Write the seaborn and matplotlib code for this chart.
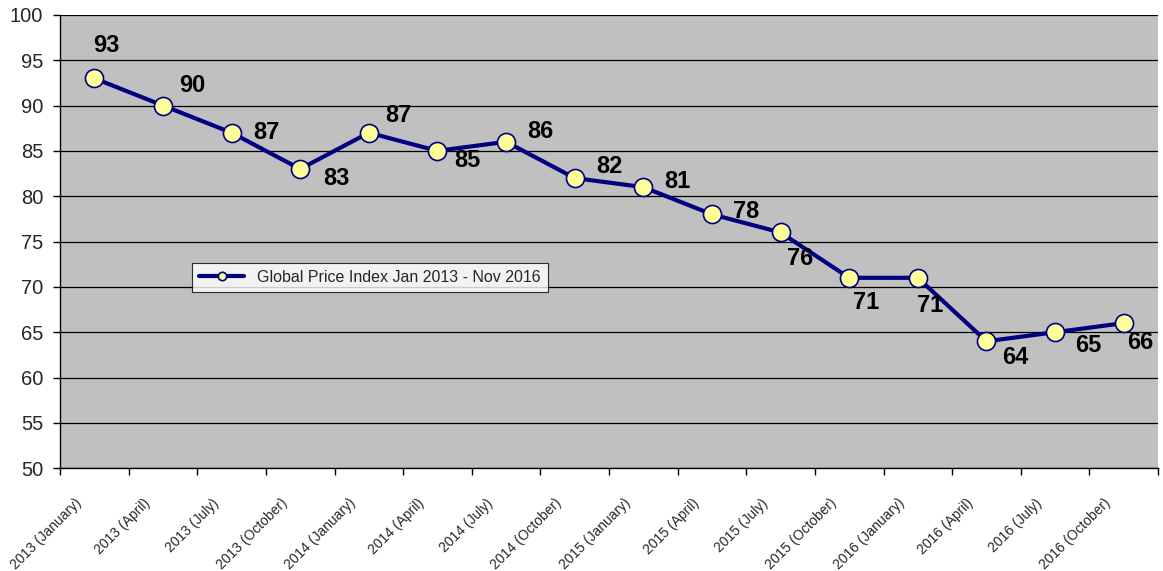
import numpy as np
import pandas as pd
import matplotlib.pyplot as plt
import matplotlib.transforms as mtransforms
import seaborn as sns
from matplotlib.ticker import MultipleLocator

# data
periods = ["2013 (January)", "2013 (April)", "2013 (July)", "2013 (October)",
           "2014 (January)", "2014 (April)", "2014 (July)", "2014 (October)",
           "2015 (January)", "2015 (April)", "2015 (July)", "2015 (October)",
           "2016 (January)", "2016 (April)", "2016 (July)", "2016 (October)"]
index_values = [93, 90, 87, 83, 87, 85, 86, 82, 81, 78, 76, 71, 71, 64, 65, 66]
# label offsets in pixels (dx, dy) relative to each point
label_offsets = [(12, 33), (29, 20), (35, 0), (36, -10), (30, 17), (30, -10),
                 (34, 10), (35, 12), (34, 6), (34, 3), (20, -26), (17, -25),
                 (12, -28), (29, -16), (33, -13), (17, -19)]

sns.set_style("white")
plt.rcParams['font.family'] = ['Liberation Sans', 'DejaVu Sans']

df = pd.DataFrame({"period": periods, "value": index_values})

fig, ax = plt.subplots(figsize=(11.63, 5.71), dpi=100)
fig.subplots_adjust(left=0.0516, right=0.9957, top=0.974, bottom=0.18)
ax.set_facecolor("#C0C0C0")

sns.lineplot(data=df, x="period", y="value", ax=ax, color="#000080",
             linewidth=3, marker="o", markersize=13,
             markerfacecolor="#FFFF99", markeredgecolor="#000080",
             markeredgewidth=1.2, label="Global Price Index Jan 2013 - Nov 2016",
             zorder=3)

for i, (v, (dx, dy)) in enumerate(zip(index_values, label_offsets)):
    ax.annotate(str(v), (i, v), xytext=(dx, dy), textcoords="offset pixels",
                ha="center", va="center", fontsize=17, fontweight="bold",
                color="black")

ax.set_ylim(50, 100)
ax.set_xlim(-0.5, len(periods) - 0.5)
ax.yaxis.set_major_locator(MultipleLocator(5))
ax.grid(axis="y", color="black", linewidth=0.9)
ax.set_axisbelow(True)

ax.set_xticks(range(len(periods)))
ax.set_xticks(np.arange(-0.5, len(periods)), minor=True)
ax.tick_params(axis="x", which="major", length=0, pad=20)
ax.tick_params(axis="x", which="minor", length=5, width=1, color="black",
               direction="out", bottom=True)
ax.tick_params(axis="y", length=5, width=1, color="black", direction="out",
               left=True, labelsize=14.5, pad=7)
ax.set_xticklabels(periods, rotation=45, ha="right", rotation_mode="anchor",
                   fontsize=10)
# nudge the rotated labels left so their ends sit under the points
shift = mtransforms.ScaledTranslation(-20 / 100, 0, fig.dpi_scale_trans)
for lbl in ax.get_xticklabels():
    lbl.set_transform(lbl.get_transform() + shift)
ax.set_xlabel("")
ax.set_ylabel("")

for s in ["top", "right"]:
    ax.spines[s].set_visible(False)
for s in ["left", "bottom"]:
    ax.spines[s].set_color("black")
    ax.spines[s].set_linewidth(1)

leg = ax.legend(loc="center left", bbox_to_anchor=(0.113, 0.4205), fontsize=11.5,
                frameon=True, fancybox=False, edgecolor="black",
                handlelength=2.8, borderpad=0.45)
leg.get_frame().set_facecolor("white")
leg.get_frame().set_linewidth(0.8)
for h in leg.legend_handles:
    h.set_markersize(6)

fig.savefig("out.png", dpi=100)
